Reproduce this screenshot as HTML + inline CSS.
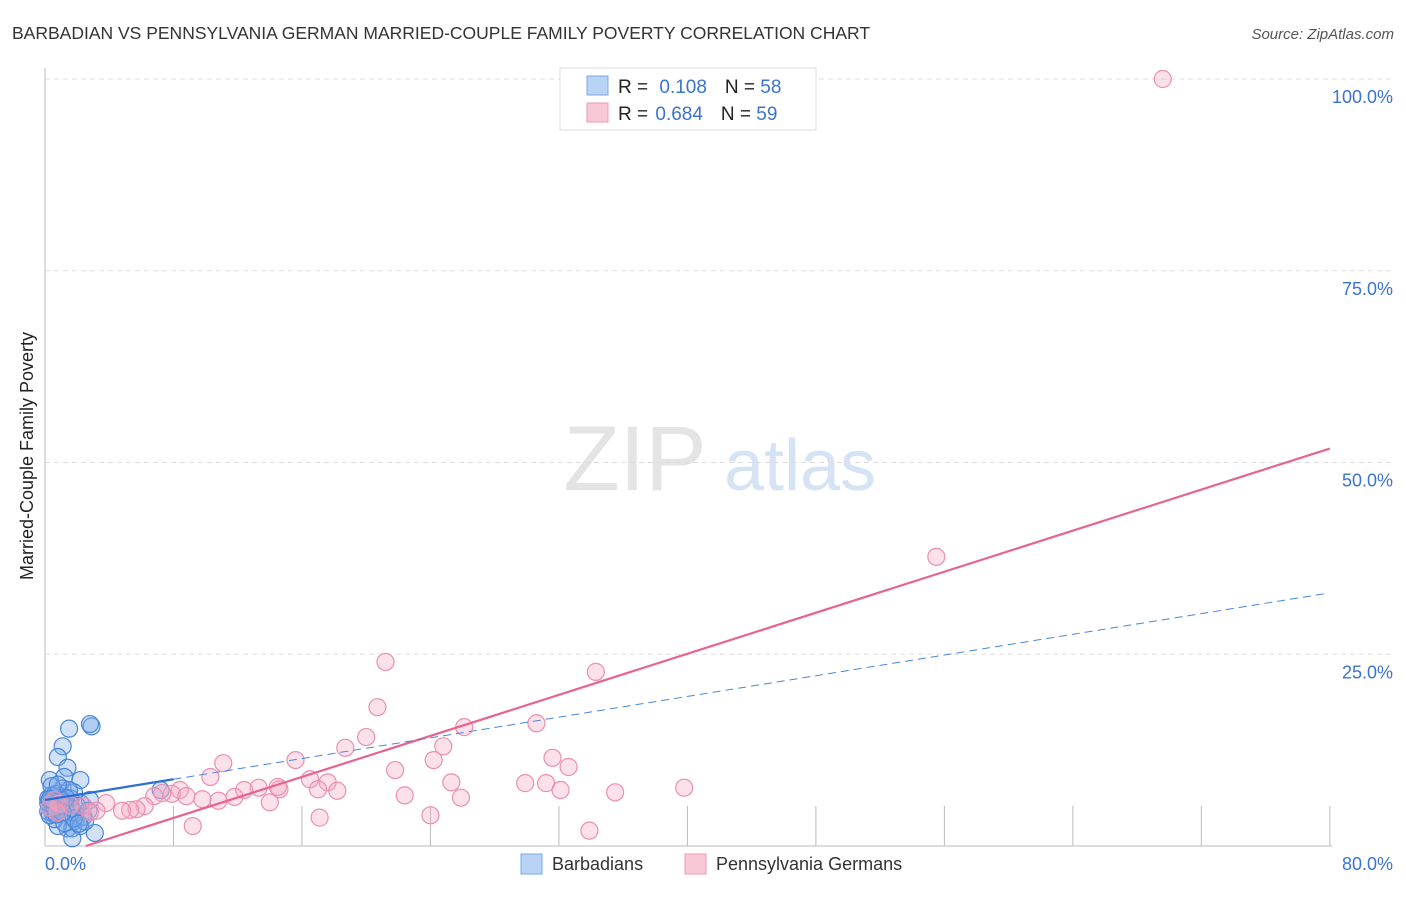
<!DOCTYPE html>
<html><head><meta charset="utf-8"><style>
body{margin:0;background:#fff;font-family:"Liberation Sans",sans-serif;}
svg text{font-family:"Liberation Sans",sans-serif;}
</style></head><body>
<svg id="chart" width="1406" height="892">
<text x="12" y="39" font-size="17.5" fill="#333">BARBADIAN VS PENNSYLVANIA GERMAN MARRIED-COUPLE FAMILY POVERTY CORRELATION CHART</text>
<text x="1394" y="39" font-size="15" fill="#555" font-style="italic" text-anchor="end">Source: ZipAtlas.com</text>
<text x="33" y="456" font-size="18" fill="#222" text-anchor="middle" transform="rotate(-90 33 456)">Married-Couple Family Poverty</text>
<g><text x="635" y="490" font-size="92" fill="#e4e4e4" text-anchor="middle" font-family="Liberation Serif">ZIP</text><text x="800" y="490" font-size="72" fill="#d6e3f4" text-anchor="middle">atlas</text></g>
<g id="grid"></g><g id="marks"></g>
<g>
<rect x="560" y="68" width="256" height="62" fill="#fff" stroke="#ddd"/>
<rect x="587" y="76" width="21" height="19" fill="#b9d3f5" stroke="#7aaae8"/>
<rect x="587" y="103" width="21" height="19" fill="#f8c8d6" stroke="#ee9ab4"/>
<text x="618" y="93" font-size="19" fill="#222">R = <tspan fill="#3a73d0" dx="6">0.108</tspan><tspan dx="18" fill="#222">N = </tspan><tspan fill="#3a73d0">58</tspan></text>
<text x="618" y="120" font-size="19" fill="#222">R = <tspan fill="#3a73d0" dx="2">0.684</tspan><tspan dx="18" fill="#222">N = </tspan><tspan fill="#3a73d0">59</tspan></text>
</g>
<g>
<rect x="521" y="854" width="21" height="20" fill="#b9d3f5" stroke="#7aaae8"/>
<text x="552" y="870" font-size="18" fill="#333">Barbadians</text>
<rect x="685" y="854" width="21" height="20" fill="#f8c8d6" stroke="#ee9ab4"/>
<text x="716" y="870" font-size="18" fill="#333">Pennsylvania Germans</text>
</g>
</svg>
<script>
const yTicks=[25,50,75,100];
const yTickLabels=["25.0%","50.0%","75.0%","100.0%"];
const xTicks=[8,16,24,32,40,48,56,64,72,80];
const xEndLabels=["0.0%","80.0%"];
const blueX=[2.9,2.8,1.5,1.1,0.8,1.4,1.2,0.3,2.2,1.1,1.8,0.2,0.6,0.9,1.6,2.2,2.8,2.7,1.9,1.4,1.7,2.2,0.8,3.1,1.7,7.2,0.4,0.5,1.0,0.3,0.7,1.3,1.9,2.4,0.2,0.6,1.0,1.5,2.0,0.4,0.8,1.2,0.3,0.9,1.6,2.5,0.5,1.0,0.2,0.7,1.3,1.8,0.4,0.6,1.1,2.1,0.3,0.8];
const blueY=[15.6,15.9,15.3,13.0,11.6,10.2,9.0,8.6,8.6,7.5,7.0,6.2,5.5,6.5,6.2,5.6,6.0,4.6,3.3,2.3,2.3,2.6,2.6,1.7,1.0,7.3,5.0,4.2,4.8,5.8,6.8,5.1,4.3,3.8,4.5,3.5,5.9,7.3,5.2,6.6,4.6,3.0,4.0,5.4,4.9,3.2,5.3,6.0,5.6,4.1,6.3,3.6,7.8,5.0,4.4,2.9,6.1,8.0];
const pinkX=[69.6,55.5,21.2,34.3,20.7,26.1,30.6,15.6,18.7,20.0,24.8,24.2,31.6,32.6,11.1,10.3,21.8,16.5,17.6,29.9,31.2,25.3,18.2,17.0,14.6,13.3,12.4,14.5,22.4,25.9,32.1,35.5,39.8,14.0,11.8,10.8,9.8,8.4,7.9,7.3,8.8,6.8,6.2,5.7,5.3,4.8,3.8,3.2,2.4,1.6,0.9,0.6,17.1,24.0,33.9,9.2,0.8,2.8,0.3];
const pinkY=[100,37.7,24.0,22.7,18.1,15.5,16.0,11.2,12.8,14.2,13.0,11.2,11.5,10.3,10.8,9.0,9.9,8.7,8.3,8.2,8.2,8.3,7.2,7.4,7.4,7.6,7.3,7.7,6.6,6.3,7.3,7.0,7.6,5.7,6.4,5.9,6.1,7.3,6.8,6.9,6.5,6.5,5.2,4.8,4.7,4.6,5.6,4.6,5.2,5.3,5.5,6.0,3.7,4.0,2.0,2.6,4.4,4.4,5.0];
const blueFit=[6.0,0.3375], pinkFit=[-1.7,0.669];
const X=v=>45+v*16.06, Y=v=>846-v*7.67;
const NS="http://www.w3.org/2000/svg";
const grid=document.getElementById('grid'), marks=document.getElementById('marks');
function mk(p,tag,a){const e=document.createElementNS(NS,tag);for(const k in a)e.setAttribute(k,a[k]);p.appendChild(e);return e;}
let ax=mk(grid,'line',{x1:45,y1:68,x2:45,y2:846,stroke:'#bbb'});


let bx=mk(grid,'line',{x1:45,y1:846,x2:1332,y2:846,stroke:'#bbb'});


yTicks.forEach((t,i)=>{
 const g=mk(grid,'line',{x1:45,y1:Y(t),x2:1394,y2:Y(t),stroke:'#ddd','stroke-dasharray':'5,4'});
 
 
 const l=mk(grid,'text',{x:1393,y:Y(t)+24,'font-size':18,fill:'#3a73d0','text-anchor':'end'});l.textContent=yTickLabels[i];
 
 
});
xTicks.forEach(t=>{
 const g=mk(grid,'line',{x1:X(t),y1:806,x2:X(t),y2:846,stroke:'#bbb'});
 
 
});
[[0,'start',45],[80,'end',1393]].forEach((d,i)=>{
 const l=mk(grid,'text',{x:d[2],y:870,'font-size':18,fill:'#3a73d0','text-anchor':d[1]});l.textContent=xEndLabels[i];
 
 
});
blueX.forEach((v,i)=>{
 const c=mk(marks,'circle',{cx:X(v),cy:Y(blueY[i]),r:8.5,fill:'rgba(120,170,235,0.35)',stroke:'#4a86d8','stroke-width':1.2});
 
 
});
pinkX.forEach((v,i)=>{
 const c=mk(marks,'circle',{cx:X(v),cy:Y(pinkY[i]),r:8.5,fill:'rgba(245,170,195,0.35)',stroke:'#eb8fae','stroke-width':1.2});
 
 
});
const x0=-pinkFit[0]/pinkFit[1];
let pl=mk(marks,'line',{x1:X(x0),y1:Y(0),x2:X(80),y2:Y(pinkFit[0]+pinkFit[1]*80),stroke:'#e8638f','stroke-width':2.2});


let bs=mk(marks,'line',{x1:X(0),y1:Y(blueFit[0]),x2:X(8),y2:Y(blueFit[0]+blueFit[1]*8),stroke:'#2a6fd6','stroke-width':2.2});


let bd=mk(marks,'line',{x1:X(8),y1:Y(blueFit[0]+blueFit[1]*8),x2:X(79.7),y2:Y(blueFit[0]+blueFit[1]*79.7),stroke:'#4a86d8','stroke-width':1,'stroke-dasharray':'8,5'});


</script>
</body></html>
